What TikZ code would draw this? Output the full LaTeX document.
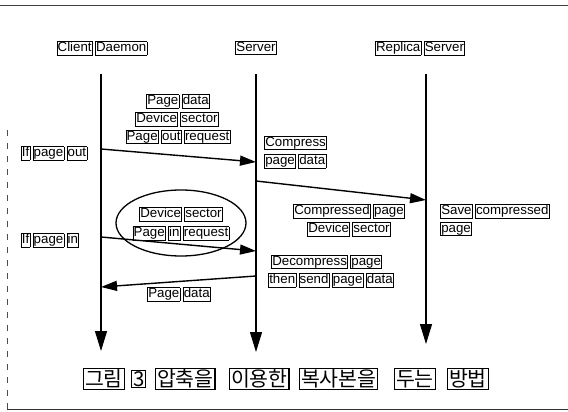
\documentclass[tikz,border=0pt]{standalone}
\usepackage{fontspec}
\setmainfont{Liberation Sans}
\newfontfamily\krfont{Noto Sans CJK KR}
\usetikzlibrary{arrows.meta,shapes.geometric}
\newcommand{\wb}[1]{{\setlength{\fboxsep}{0.4pt}\setlength{\fboxrule}{0.7pt}\fbox{\vphantom{Apg}#1}}}
\newcommand{\kb}[1]{{\setlength{\fboxsep}{0.8pt}\setlength{\fboxrule}{1.1pt}\fbox{#1}}}
\begin{document}
\begin{tikzpicture}[x=1pt,y=-1pt,
  lbl/.style={inner sep=0pt, font=\fontsize{13.3}{15}\selectfont},
  capt/.style={inner sep=0pt, anchor=west, font=\krfont\fontsize{20.5}{24}\selectfont},
  life/.style={line width=1.3pt, -{Triangle[length=20pt,width=12pt]}},
  msg/.style={line width=1.4pt, -{Triangle[length=16pt,width=10pt]}},
  oval/.style={draw, line width=1.3pt, ellipse}]
\useasboundingbox (0,0) rectangle (568,412);
% frame
\draw[line width=0.9pt, black!75] (0,5) -- (568,5);
\draw[line width=0.7pt, black!70, dash pattern=on 6pt off 7pt] (7,130) -- (7,409);
\draw[line width=0.9pt, black!80] (7,409) -- (568,409);
% titles
\node[lbl] (tc) at (102,48) {\wb{Client}\,\wb{Daemon}};
\node[lbl] (ts) at (256,48) {\wb{Server}};
\node[lbl] (tr) at (420,48) {\wb{Replica}\,\wb{Server}};
% lifelines
\coordinate (c0) at (101,74); \coordinate (c1) at (101,351);
\coordinate (s0) at (256,74); \coordinate (s1) at (256,352);
\coordinate (r0) at (426,74); \coordinate (r1) at (426,344);
\draw[life] (c0) -- (c1);
\draw[life] (s0) -- (s1);
\draw[life] (r0) -- (r1);
% message 1
\node[lbl] (pd1) at (178,101) {\wb{Page}\,\wb{data}};
\node[lbl] (ds1) at (177,119) {\wb{Device}\,\wb{sector}};
\node[lbl] (por) at (178,137) {\wb{Page}\,\wb{out}\,\wb{request}};
\node[lbl] (ipo) at (54,153) {\wb{If}\,\wb{page}\,\wb{out}};
\coordinate (m1a) at (101,149); \coordinate (m1b) at (256,162);
\draw[msg] (m1a) -- (m1b);
\node[lbl, anchor=west] (cp1) at (264,143) {\wb{Compress}};
\node[lbl, anchor=west] (cp2) at (264,161) {\wb{page}\,\wb{data}};
% message 2
\coordinate (m2a) at (256,181); \coordinate (m2b) at (426,200);
\draw[msg] (m2a) -- (m2b);
\node[lbl] (cpg) at (349,211) {\wb{Compressed}\,\wb{page}};
\node[lbl] (ds2) at (349,229) {\wb{Device}\,\wb{sector}};
\node[lbl, anchor=west] (sv1) at (440,211) {\wb{Save}\,\wb{compressed}};
\node[lbl, anchor=west] (sv2) at (440,229) {\wb{page}};
% message 3
\node[oval, minimum width=130pt, minimum height=66pt] (ov) at (181,223) {};
\node[lbl] (ds3) at (181,214) {\wb{Device}\,\wb{sector}};
\node[lbl] (pir) at (181,233) {\wb{Page}\,\wb{in}\,\wb{request}};
\node[lbl] (ipi) at (50,240) {\wb{If}\,\wb{page}\,\wb{in}};
\coordinate (m3a) at (101,237); \coordinate (m3b) at (256,251);
\draw[msg] (m3a) -- (m3b);
\node[lbl, anchor=west] (dc1) at (271,262) {\wb{Decompress}\,\wb{page}};
\node[lbl, anchor=west] (dc2) at (268,280) {\wb{then}\,\wb{send}\,\wb{page}\,\wb{data}};
% message 4
\coordinate (m4a) at (256,276); \coordinate (m4b) at (101,287);
\draw[msg] (m4a) -- (m4b);
\node[lbl] (pd4) at (179,294) {\wb{Page}\,\wb{data}};
% caption
\node[capt] (k1) at (83,379) {\kb{그림}};
\node[capt] (k2) at (131,379) {\kb{3}};
\node[capt] (k3) at (155,379) {\kb{압축을}};
\node[capt] (k4) at (229,379) {\kb{이용한}};
\node[capt] (k5) at (299,379) {\kb{복사본을}};
\node[capt] (k6) at (394,379) {\kb{두는}};
\node[capt] (k7) at (447,379) {\kb{방법}};
\end{tikzpicture}
\end{document}
